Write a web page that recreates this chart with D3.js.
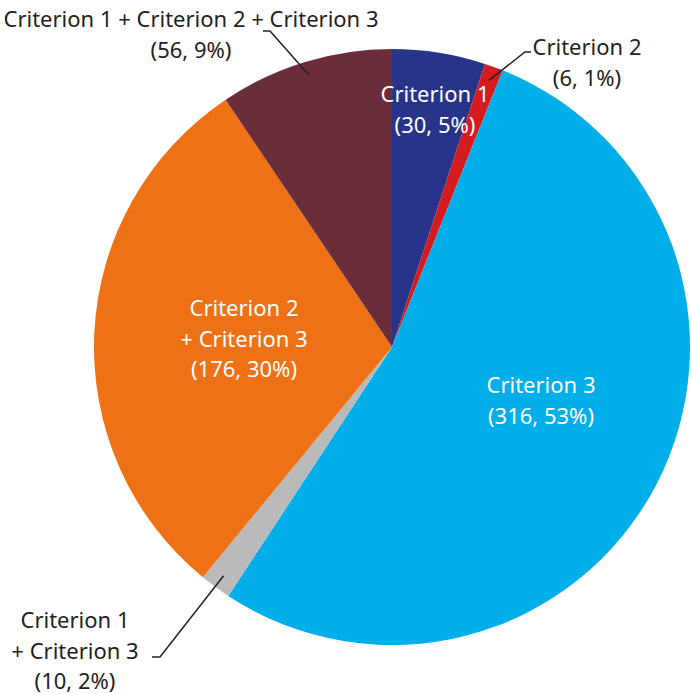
<!DOCTYPE html>
<html>
<head>
<meta charset="utf-8">
<script src="https://cdn.jsdelivr.net/npm/d3@7"></script>
<style>
  body { margin: 0; background: #fff; }
  text { font-family: "Noto Sans", sans-serif; font-size: 22px; }
</style>
</head>
<body>
<div id="chart"></div>
<script>
// data, clockwise from 12 o'clock
var categories = ["Criterion 1", "Criterion 2", "Criterion 3", "Criterion 1 + Criterion 3",
                  "Criterion 2 + Criterion 3", "Criterion 1 + Criterion 2 + Criterion 3"];
var counts = [30, 6, 316, 10, 176, 56];
var percents = [5, 1, 53, 2, 30, 9];
var colors = ["#28348a", "#d51a20", "#00aee9", "#bababa", "#ee7116", "#6b2d3a"];

// how each label is broken into lines
var labelLines = [
  ["Criterion 1"],
  ["Criterion 2"],
  ["Criterion 3"],
  ["Criterion 1", "+ Criterion 3"],
  ["Criterion 2", "+ Criterion 3"],
  ["Criterion 1 + Criterion 2 + Criterion 3"]
];

var width = 692, height = 694;
var cx = 392, cy = 347, radius = 298;

var svg = d3.select("#chart")
  .append("svg")
    .attr("width", width)
    .attr("height", height);

var g = svg.append("g")
    .attr("transform", "translate(" + cx + "," + cy + ")");

var pie = d3.pie().sort(null).value(function(d) { return d; });
var arcs = pie(counts);

var arc = d3.arc().innerRadius(0).outerRadius(radius);

g.selectAll("path")
  .data(arcs)
  .enter()
  .append("path")
    .attr("d", arc)
    .attr("fill", function(d, i) { return colors[i]; });

// label placement (relative to the pie centre), inside or outside
var labelPos = [
  {x: 43, y: -245, fill: "#fff"},
  {x: 195, y: -292, fill: "#222"},
  {x: 149, y: 46, fill: "#fff"},
  {x: -317, y: 281, fill: "#222"},
  {x: -148, y: -31, fill: "#fff"},
  {x: -201, y: -320, fill: "#222"}
];
var lineH = 30.5;

arcs.forEach(function(d, i) {
  var lines = labelLines[i].concat(["(" + counts[i] + ", " + percents[i] + "%)"]);
  var t = g.append("text")
    .attr("text-anchor", "middle")
    .attr("fill", labelPos[i].fill);
  lines.forEach(function(s, k) {
    t.append("tspan")
      .attr("x", labelPos[i].x)
      .attr("y", labelPos[i].y + k * lineH)
      .text(s);
  });
});

// leader lines for the outside labels
function edge(d, r) {
  var a = (d.startAngle + d.endAngle) / 2;
  return [Math.sin(a) * r, -Math.cos(a) * r];
}
var leaders = [
  {i: 1, pts: [[133, -295], [139, -295]]},
  {i: 3, pts: [[-232, 310], [-240, 310]]},
  {i: 5, pts: [[-122, -316], [-129, -316]]}
];
var line = d3.line();
leaders.forEach(function(l) {
  var p = edge(arcs[l.i], radius - 14);
  g.append("path")
    .attr("d", line([p].concat(l.pts)))
    .attr("fill", "none")
    .attr("stroke", "#222")
    .attr("stroke-width", 1.5);
});
</script>
</body>
</html>
